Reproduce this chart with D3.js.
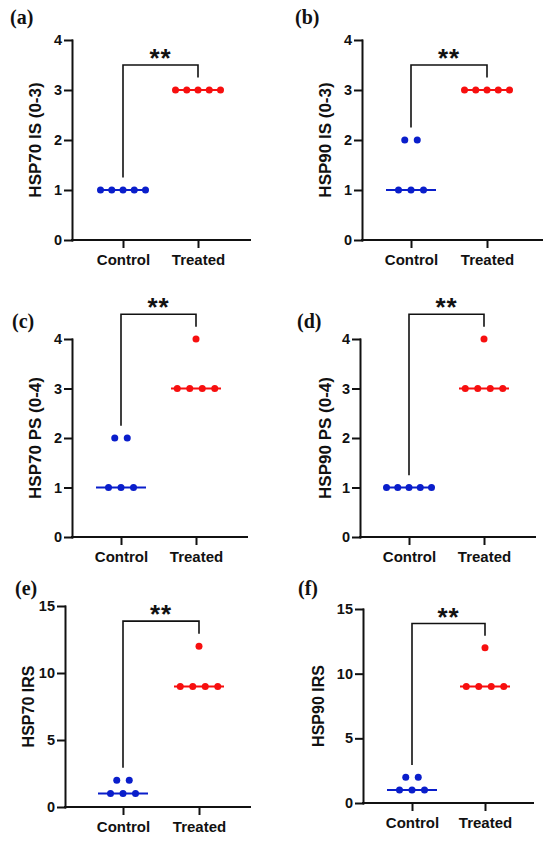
<!DOCTYPE html>
<html>
<head>
<meta charset="utf-8">
<script src="https://cdn.jsdelivr.net/npm/d3@7"></script>
<style>
  body { margin: 0; background: #fff; }
  svg { display: block; }
</style>
</head>
<body>
<script>
// data
const groups = ["Control", "Treated"];
const panelLabels = ["(a)", "(b)", "(c)", "(d)", "(e)", "(f)"];
const yTitles = ["HSP70 IS (0-3)", "HSP90 IS (0-3)", "HSP70 PS (0-4)", "HSP90 PS (0-4)", "HSP70 IRS", "HSP90 IRS"];
const yMaxes = [4, 4, 4, 4, 15, 15];
const yTickValues = [
  [0, 1, 2, 3, 4], [0, 1, 2, 3, 4], [0, 1, 2, 3, 4], [0, 1, 2, 3, 4],
  [0, 5, 10, 15], [0, 5, 10, 15],
];
const controlValues = [
  [1, 1, 1, 1, 1], [1, 1, 1, 2, 2], [1, 1, 1, 2, 2],
  [1, 1, 1, 1, 1], [1, 1, 1, 2, 2], [1, 1, 1, 2, 2],
];
const treatedValues = [
  [3, 3, 3, 3, 3], [3, 3, 3, 3, 3], [3, 3, 3, 3, 4],
  [3, 3, 3, 3, 4], [9, 9, 9, 9, 12], [9, 9, 9, 9, 12],
];
const significance = ["**", "**", "**", "**", "**", "**"];

const WIDTH = 550;
const HEIGHT = 841;
const SANS = "'Liberation Sans', Arial, sans-serif";
const SERIF = "'Liberation Serif', 'Times New Roman', serif";
const GROUP_COLORS = { Control: "#0a1ecb", Treated: "#f70f0f" };
const DOT_RADIUS = 3.5;
const MEDIAN_HALF_WIDTH = 25;

// frame of each panel on the page
const PANEL_LAYOUT = [
  { axisLeft: 72, axisRight: 250, ctrlX: 123, treatX: 198, yTop: 40, yBottom: 240, labelX: 10, labelY: 24, titleX: 35, titleSize: 17 },
  { axisLeft: 362, axisRight: 542, ctrlX: 411, treatX: 487, yTop: 40, yBottom: 240, labelX: 295, labelY: 24, titleX: 325, titleSize: 17 },
  { axisLeft: 72, axisRight: 247, ctrlX: 121, treatX: 196, yTop: 339, yBottom: 537, labelX: 12, labelY: 328, titleX: 35, titleSize: 17 },
  { axisLeft: 360, axisRight: 535, ctrlX: 409, treatX: 484, yTop: 339, yBottom: 537, labelX: 297, labelY: 328, titleX: 325, titleSize: 17 },
  { axisLeft: 65, axisRight: 250, ctrlX: 123, treatX: 199, yTop: 606, yBottom: 807, labelX: 15, labelY: 595, titleX: 28, titleSize: 16 },
  { axisLeft: 363, axisRight: 533, ctrlX: 412, treatX: 485, yTop: 609, yBottom: 803, labelX: 298, labelY: 595, titleX: 318, titleSize: 16 },
];

const svg = d3.select("body").append("svg")
  .attr("width", WIDTH)
  .attr("height", HEIGHT)
  .attr("viewBox", `0 0 ${WIDTH} ${HEIGHT}`)
  .style("font-family", SANS)
  .style("font-weight", "bold");

svg.append("rect").attr("width", WIDTH).attr("height", HEIGHT).attr("fill", "#fff");

PANEL_LAYOUT.forEach((layout, index) => drawPanel(layout, index));

function swarmPoints(values, group) {
  // spread equal values side by side, like a GraphPad scatter dot plot
  const points = [];
  d3.group(values, (value) => value).forEach((sameValues, value) => {
    const count = sameValues.length;
    const spacing = count > 1 ? Math.min(12.5, 45 / (count - 1)) : 0;
    sameValues.forEach((_, i) => {
      points.push({ group, value, offset: (i - (count - 1) / 2) * spacing });
    });
  });
  return points;
}

function drawPanel(layout, index) {
  const yMax = yMaxes[index];
  const x = d3.scalePoint().domain(groups).range([layout.ctrlX, layout.treatX]);
  const y = d3.scaleLinear().domain([0, yMax]).range([layout.yBottom, layout.yTop]);
  const g = svg.append("g").attr("class", "panel");

  const seriesByGroup = { Control: controlValues[index], Treated: treatedValues[index] };

  // axes
  const xAxis = g.append("g")
    .attr("transform", `translate(0,${layout.yBottom})`)
    .call(d3.axisBottom(x).tickSize(7).tickSizeOuter(0).tickPadding(7));
  xAxis.select(".domain").attr("d", `M${layout.axisLeft},0H${layout.axisRight}`);

  const yAxis = g.append("g")
    .attr("transform", `translate(${layout.axisLeft},0)`)
    .call(
      d3.axisLeft(y)
        .tickValues(yTickValues[index])
        .tickFormat(d3.format("d"))
        .tickSize(7)
        .tickSizeOuter(0)
        .tickPadding(3),
    );

  [xAxis, yAxis].forEach((axis) => {
    axis.attr("font-family", null).attr("font-size", null);
    axis.selectAll(".domain, .tick line")
      .attr("stroke", "#111")
      .attr("stroke-width", 2)
      .attr("stroke-linecap", "square");
    axis.selectAll(".tick text").attr("fill", "#111");
  });
  xAxis.selectAll(".tick text").style("font-size", "15px");
  yAxis.selectAll(".tick text").style("font-size", "14.5px");

  // y title
  g.append("text")
    .attr("transform", `translate(${layout.titleX},${(layout.yTop + layout.yBottom) / 2}) rotate(-90)`)
    .attr("text-anchor", "middle")
    .attr("dy", "0.36em")
    .style("font-size", `${layout.titleSize}px`)
    .attr("fill", "#111")
    .text(yTitles[index]);

  // panel letter
  g.append("text")
    .attr("x", layout.labelX)
    .attr("y", layout.labelY)
    .style("font-family", SERIF)
    .style("font-size", "20px")
    .attr("fill", "#111")
    .text(panelLabels[index]);

  // medians
  g.append("g")
    .selectAll("line")
    .data(groups)
    .join("line")
    .attr("x1", (group) => x(group) - MEDIAN_HALF_WIDTH)
    .attr("x2", (group) => x(group) + MEDIAN_HALF_WIDTH)
    .attr("y1", (group) => y(d3.median(seriesByGroup[group])))
    .attr("y2", (group) => y(d3.median(seriesByGroup[group])))
    .attr("stroke", (group) => GROUP_COLORS[group])
    .attr("stroke-width", 2);

  // dots
  const points = groups.flatMap((group) => swarmPoints(seriesByGroup[group], group));
  g.append("g")
    .selectAll("circle")
    .data(points)
    .join("circle")
    .attr("cx", (point) => x(point.group) + point.offset)
    .attr("cy", (point) => y(point.value))
    .attr("r", DOT_RADIUS)
    .attr("fill", (point) => GROUP_COLORS[point.group]);

  // significance bracket
  const gap = yMax * 0.0625;
  const allValues = controlValues[index].concat(treatedValues[index]);
  const bracketTop = d3.max(allValues) + yMax * 0.125;
  const leftEnd = d3.max(controlValues[index]) + gap;
  const rightEnd = d3.max(treatedValues[index]) + gap;
  g.append("path")
    .attr("d", `M${x("Control")},${y(leftEnd)}V${y(bracketTop)}H${x("Treated")}V${y(rightEnd)}`)
    .attr("fill", "none")
    .attr("stroke", "#111")
    .attr("stroke-width", 1.6);

  g.append("text")
    .attr("x", (x("Control") + x("Treated")) / 2)
    .attr("y", y(bracketTop) + 2)
    .attr("text-anchor", "middle")
    .style("font-size", "26px")
    .attr("letter-spacing", 1)
    .attr("fill", "#111")
    .text(significance[index]);
}
</script>
</body>
</html>
